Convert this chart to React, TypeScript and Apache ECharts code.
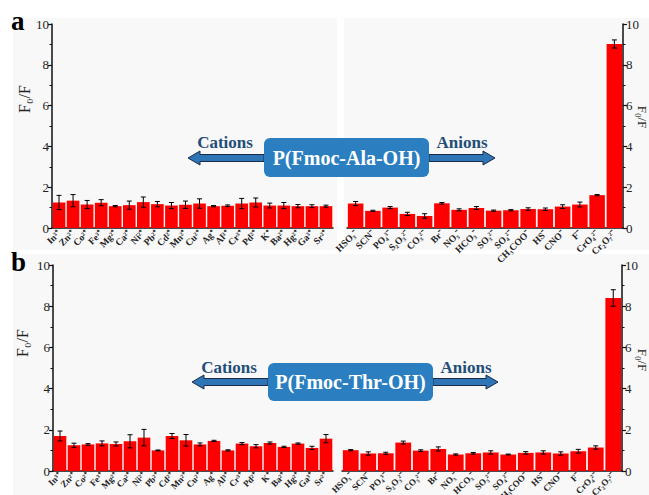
import React, { useEffect, useRef } from "react";
import * as echarts from "echarts";

const cations = ["In³⁺", "Zn²⁺", "Co²⁺", "Fe³⁺", "Mg²⁺", "Ca²⁺", "Ni²⁺", "Pb²⁺", "Cd²⁺", "Mn²⁺", "Cu²⁺", "Ag⁺", "Al³⁺", "Cr³⁺", "Pd²⁺", "K⁺", "Ba²⁺", "Hg²⁺", "Ga³⁺", "Sr²⁺"];
const anions = ["HSO₃⁻", "SCN⁻", "PO₄³⁻", "S₂O₃²⁻", "CO₃²⁻", "Br⁻", "NO₃⁻", "HCO₃⁻", "SO₃²⁻", "SO₄²⁻", "CH₃COO⁻", "HS⁻", "CNO⁻", "F⁻", "CrO₄²⁻", "Cr₂O₇²⁻"];

const alaCationVals = [1.25, 1.34, 1.15, 1.24, 1.07, 1.12, 1.27, 1.17, 1.1, 1.14, 1.2, 1.07, 1.09, 1.2, 1.25, 1.1, 1.1, 1.07, 1.07, 1.07];
const alaCationErr = [0.35, 0.3, 0.2, 0.15, 0.03, 0.2, 0.25, 0.13, 0.15, 0.18, 0.23, 0.03, 0.04, 0.25, 0.22, 0.12, 0.15, 0.08, 0.07, 0.05];
const alaAnionVals = [1.2, 0.84, 1.0, 0.69, 0.59, 1.21, 0.89, 0.98, 0.85, 0.87, 0.93, 0.92, 1.05, 1.15, 1.61, 9.02];
const alaAnionErr = [0.1, 0.03, 0.05, 0.08, 0.11, 0.04, 0.05, 0.07, 0.03, 0.03, 0.06, 0.06, 0.09, 0.12, 0.03, 0.2];

const thrCationVals = [1.7, 1.25, 1.29, 1.34, 1.31, 1.44, 1.62, 1.0, 1.7, 1.49, 1.29, 1.46, 1.0, 1.33, 1.2, 1.36, 1.17, 1.33, 1.12, 1.57];
const thrCationErr = [0.24, 0.1, 0.04, 0.12, 0.1, 0.32, 0.4, 0.02, 0.12, 0.28, 0.07, 0.03, 0.03, 0.05, 0.08, 0.05, 0.03, 0.03, 0.08, 0.2];
const thrAnionVals = [1.01, 0.85, 0.86, 1.38, 0.99, 1.07, 0.8, 0.86, 0.9, 0.8, 0.88, 0.9, 0.85, 0.96, 1.14, 8.4];
const thrAnionErr = [0.03, 0.08, 0.05, 0.07, 0.04, 0.1, 0.03, 0.04, 0.08, 0.02, 0.06, 0.08, 0.08, 0.09, 0.08, 0.4];

const yTicks = { min: 0, max: 10, interval: 2 };

const FONT = "Liberation Serif";

export default function App() {
  const ref = useRef<HTMLDivElement>(null);
  useEffect(() => {
    if (!ref.current) return;
    const chart = echarts.init(ref.current, undefined, { renderer: "svg" });

    const grids = [
      { left: 52, top: 24, width: 281, height: 204, outerBoundsMode: "none", containLabel: false },
      { left: 347, top: 24, width: 276, height: 204, outerBoundsMode: "none", containLabel: false },
      { left: 53, top: 265, width: 280, height: 206, outerBoundsMode: "none", containLabel: false },
      { left: 342, top: 265, width: 280, height: 206, outerBoundsMode: "none", containLabel: false },
    ];
    const cats = [cations, anions, cations, anions];
    const vals = [alaCationVals, alaAnionVals, thrCationVals, thrAnionVals];
    const errs = [alaCationErr, alaAnionErr, thrCationErr, thrAnionErr];

    const xAxis = cats.map((c, i) => ({
      type: "category",
      gridIndex: i,
      data: c,
      axisTick: { show: false },
      axisLine: { lineStyle: { color: "#111", width: 1.5 } },
      axisLabel: {
        interval: 0,
        rotate: 45,
        fontSize: i >= 2 ? 9 : 9.5,
        fontWeight: "bold",
        fontFamily: FONT,
        color: "#222",
        margin: i >= 2 ? 3 : 4,
      },
    }));

    const yAxis = grids.map((g, i) => ({
      type: "value",
      gridIndex: i,
      position: i % 2 === 0 ? "left" : "right",
      min: yTicks.min,
      max: yTicks.max,
      interval: yTicks.interval,
      splitLine: { show: false },
      axisLine: { show: true, lineStyle: { color: "#111", width: 1.5 } },
      axisTick: { show: true, length: 4, lineStyle: { color: "#111", width: 1.2 } },
      minorTick: { show: true, splitNumber: 2, length: 2.5, lineStyle: { color: "#111", width: 1 } },
      axisLabel: { fontSize: 13, fontFamily: FONT, color: "#222", margin: 3 },
    }));

    const series: any[] = [];
    vals.forEach((v, i) => {
      series.push({
        type: "bar",
        xAxisIndex: i,
        yAxisIndex: i,
        data: v,
        barCategoryGap: "10%",
        itemStyle: { color: "#ff0000" },
        z: 2,
      });
      series.push({
        type: "custom",
        xAxisIndex: i,
        yAxisIndex: i,
        z: 3,
        data: v.map((val, j) => [j, val, errs[i][j]]),
        renderItem: (params: any, api: any) => {
          const x = api.value(0);
          const y = api.value(1);
          const e = api.value(2);
          const hi = api.coord([x, y + e]);
          const lo = api.coord([x, y - e]);
          const w = 5;
          const st = { stroke: "#000", lineWidth: 1 };
          return {
            type: "group",
            children: [
              { type: "line", shape: { x1: hi[0], y1: hi[1], x2: lo[0], y2: lo[1] }, style: st },
              { type: "line", shape: { x1: hi[0] - w / 2, y1: hi[1], x2: hi[0] + w / 2, y2: hi[1] }, style: st },
              { type: "line", shape: { x1: lo[0] - w / 2, y1: lo[1], x2: lo[0] + w / 2, y2: lo[1] }, style: st },
            ],
          };
        },
      });
    });

    const arrowStyle = { fill: "#2e75b6", stroke: "#1c2a48", lineWidth: 1 };
    const leftArrow = (tip: number, end: number, cy: number) => ({
      type: "polygon",
      shape: {
        points: [
          [tip, cy],
          [tip + 12, cy - 7],
          [tip + 12, cy - 3.5],
          [end, cy - 3.5],
          [end, cy + 3.5],
          [tip + 12, cy + 3.5],
          [tip + 12, cy + 7],
        ],
      },
      style: arrowStyle,
      z: 10,
    });
    const rightArrow = (start: number, tip: number, cy: number) => ({
      type: "polygon",
      shape: {
        points: [
          [tip, cy],
          [tip - 12, cy - 7],
          [tip - 12, cy - 3.5],
          [start, cy - 3.5],
          [start, cy + 3.5],
          [tip - 12, cy + 3.5],
          [tip - 12, cy + 7],
        ],
      },
      style: arrowStyle,
      z: 10,
    });
    const label = (x: number, y: number, w: number, h: number, t: string) => [
      { type: "rect", shape: { x, y, width: w, height: h, r: 6 }, style: { fill: "#2b7fc1" }, z: 10 },
      {
        type: "text",
        x: x + w / 2,
        y: y + h / 2,
        style: {
          text: t,
          fill: "#fff",
          fontFamily: FONT,
          fontSize: 20,
          fontWeight: "bold",
          align: "center",
          verticalAlign: "middle",
        },
        z: 11,
      },
    ];
    const word = (x: number, y: number, t: string) => ({
      type: "text",
      x,
      y,
      style: {
        text: t,
        fill: "#1f4e79",
        fontFamily: FONT,
        fontSize: 17,
        fontWeight: "bold",
        align: "center",
        verticalAlign: "middle",
      },
      z: 11,
    });
    const yName = (x: number, y: number, rot: number, size: number) => ({
      type: "text",
      x,
      y,
      rotation: rot,
      style: {
        text: "F₀/F",
        fill: "#222",
        fontFamily: FONT,
        fontSize: size,
        align: "center",
        verticalAlign: "middle",
      },
      z: 11,
    });
    const letter = (x: number, y: number, t: string) => ({
      type: "text",
      x,
      y,
      style: {
        text: t,
        fill: "#000",
        fontFamily: FONT,
        fontSize: 27,
        fontWeight: "bold",
        align: "left",
        verticalAlign: "middle",
      },
      z: 11,
    });
    const bg = (x: number, y: number, w: number, h: number) => ({
      type: "rect",
      shape: { x, y, width: w, height: h },
      style: { fill: "#f8f8f8" },
      z: -10,
      silent: true,
    });

    const graphic: any[] = [
      bg(13, 18, 324, 232),
      bg(344, 18, 305, 232),
      bg(13, 254, 636, 241),
      letter(11, 21, "a"),
      letter(11, 262, "b"),
      yName(24, 99, Math.PI / 2, 16),
      yName(642, 117, -Math.PI / 2, 13),
      yName(22, 343, Math.PI / 2, 16),
      yName(642, 360, -Math.PI / 2, 13),
      leftArrow(188, 264, 158),
      rightArrow(429, 495, 158),
      ...label(264, 138, 165, 39, "P(Fmoc-Ala-OH)"),
      word(225, 142, "Cations"),
      word(462, 142, "Anions"),
      leftArrow(192, 268, 382),
      rightArrow(433, 498, 382),
      ...label(268, 363, 165, 38, "P(Fmoc-Thr-OH)"),
      word(229, 367, "Cations"),
      word(466, 367, "Anions"),
    ];

    chart.setOption({
      animation: false,
      backgroundColor: "#ffffff",
      grid: grids,
      xAxis,
      yAxis,
      series,
      graphic,
    });
    return () => chart.dispose();
  }, []);
  return (
    <div
      ref={ref}
      style={{ position: "fixed", left: 0, top: 0, width: 649, height: 495 }}
    />
  );
}
